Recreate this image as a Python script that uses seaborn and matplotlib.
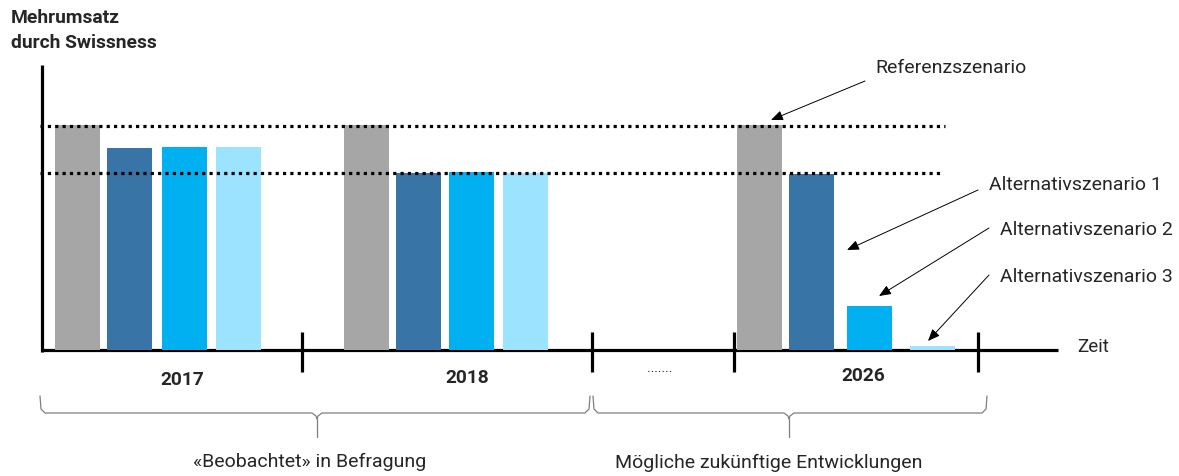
import matplotlib
matplotlib.use("Agg")
import matplotlib.pyplot as plt
import seaborn as sns
import pandas as pd

# ---------------- data ----------------
years = ["2017", "2018", "2026"]
scenarios = ["Referenzszenario", "Alternativszenario 1", "Alternativszenario 2", "Alternativszenario 3"]
values_2017 = [225, 202, 203, 203]
values_2018 = [225, 177, 178, 177]
values_2026 = [225, 176, 44, 4]
dotted_levels = [224, 178]
title_lines = ["Mehrumsatz", "durch Swissness"]
axis_label = "Zeit"
period_labels = ["«Beobachtet» in Befragung", "Mögliche zukünftige Entwicklungen"]

# ---------------- layout (pixel-like units) ----------------
W, H = 1179, 476
BASE = 350  # baseline pixel row
group_left = [55, 344, 737]
bar_offsets = [[0, 52, 107, 161], [0, 52, 105, 159], [0, 52, 110, 173]]
bar_w = 45
colors = {"Referenzszenario": "#A6A6A6", "Alternativszenario 1": "#3874A6",
          "Alternativszenario 2": "#00B0F0", "Alternativszenario 3": "#9CE3FF"}

def py(p):  # pixel row -> data value
    return BASE - p

rows = []
for gi, vals in enumerate([values_2017, values_2018, values_2026]):
    for si, v in enumerate(vals):
        rows.append({"x": group_left[gi] + bar_offsets[gi][si] + bar_w / 2,
                     "value": v, "scenario": scenarios[si], "year": years[gi]})
df = pd.DataFrame(rows)

sns.set_theme(style="white")
plt.rcParams["font.family"] = ["Roboto", "DejaVu Sans"]

fig = plt.figure(figsize=(W / 100, H / 100), dpi=100)
ax = fig.add_axes([0, 0, 1, 1])

xs = sorted(df["x"].unique())
min_gap = min(b - a for a, b in zip(xs[:-1], xs[1:]))
sns.barplot(data=df, x="x", y="value", hue="scenario", palette=colors,
            native_scale=True, dodge=False, width=bar_w / min_gap, saturation=1,
            legend=False, ax=ax, linewidth=0, zorder=3, errorbar=None)

ax.set_xlim(0, W)
ax.set_ylim(py(H), py(0))
ax.axis("off")

# axes lines
ax.plot([42, 42], [py(352), py(65)], color="black", lw=2.3, solid_capstyle="butt", zorder=2)
ax.plot([41, 1058], [py(350), py(350)], color="black", lw=2.3, solid_capstyle="butt", zorder=2)
for tx in [302, 592, 734, 978]:
    ax.plot([tx, tx], [py(332), py(372)], color="black", lw=2.3, solid_capstyle="butt", zorder=2)

# dotted reference lines
ax.plot([40, 945], [dotted_levels[0], dotted_levels[0]], color="black", lw=2.3,
        linestyle=(0, (1, 1.3)), dash_capstyle="butt", zorder=4)
ax.plot([40, 940], [dotted_levels[1] - 1, dotted_levels[1] - 1], color="black", lw=2.3,
        linestyle=(0, (1, 1.3)), dash_capstyle="butt", zorder=4)

# titles and labels
ax.text(11, py(18), title_lines[0], fontsize=13.9, fontweight="bold", va="center", ha="left")
ax.text(11, py(43), title_lines[1], fontsize=13.9, fontweight="bold", va="center", ha="left")
ax.text(1077, py(347), axis_label, fontsize=13.5, va="center", ha="left")
for lx, ly, lab in zip([182, 467, 863], [380, 378, 376], years):
    ax.text(lx, py(ly), lab, fontsize=13.8, fontweight="bold", va="center", ha="center")
ax.text(660, py(368), ".......", fontsize=10, va="center", ha="center")

# braces
def brace(x0, xm, x1, ytop, ymid, ybot):
    c = "#7F7F7F"
    lx = [x0, x0 + 1, x0 + 5, xm - 5, xm - 1, xm]
    ly = [ytop, ymid - 4, ymid, ymid, ymid + 3, ymid + 6]
    ax.plot(lx, [py(v) for v in ly], color=c, lw=0.9)
    ax.plot([xm, xm], [py(ymid + 6), py(ybot)], color=c, lw=0.9)
    rx = [xm, xm + 1, xm + 5, x1 - 5, x1 - 1, x1]
    ry = [ymid + 6, ymid + 3, ymid, ymid, ymid - 4, ytop]
    ax.plot(rx, [py(v) for v in ry], color=c, lw=0.9)

brace(40, 317, 590, 396, 413, 437)
brace(593, 789, 987, 396, 413, 437)
ax.text(310, py(462), period_labels[0], fontsize=14, va="center", ha="center")
ax.text(769, py(463), period_labels[1], fontsize=14, va="center", ha="center")

# annotations
ann = [  # text, text pos, arrow tail, arrow head
    (scenarios[0], (875, 68), (865, 81), (771, 120)),
    (scenarios[1], (989, 185), (978, 190), (847, 250)),
    (scenarios[2], (1000, 230), (989, 228), (879, 296)),
    (scenarios[3], (1000, 277), (989, 275), (928, 341)),
]
for txt, tp, tail, head in ann:
    ax.text(tp[0], py(tp[1]), txt, fontsize=14, va="center", ha="left")
    ax.annotate("", xy=(head[0], py(head[1])), xytext=(tail[0], py(tail[1])),
                arrowprops=dict(arrowstyle="-|>,head_length=0.6,head_width=0.25",
                                color="black", lw=0.7, shrinkA=0, shrinkB=0))

fig.savefig("out.png", dpi=100)
